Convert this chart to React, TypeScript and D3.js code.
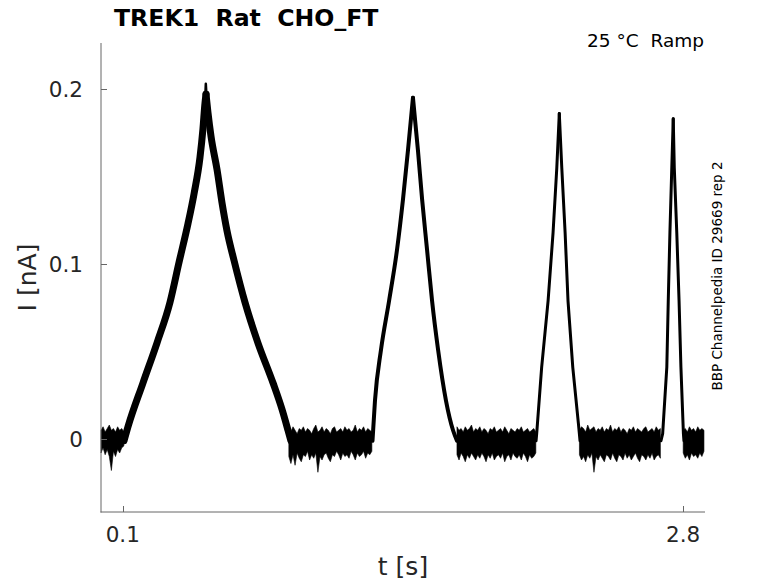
import React from "react";
import * as d3 from "d3";

const W = 778;
const H = 583;

// centre line of each ramp response, [t (s), I (nA)]
const ramp1 = [
  [0.106, -0.001], [0.125, 0.007], [0.197, 0.032], [0.265, 0.055], [0.327, 0.078],
  [0.371, 0.101], [0.414, 0.123], [0.443, 0.14], [0.472, 0.161], [0.486, 0.177],
  [0.496, 0.192], [0.501, 0.197], [0.51, 0.187], [0.525, 0.173], [0.554, 0.154],
  [0.578, 0.135], [0.602, 0.119], [0.636, 0.102], [0.689, 0.078], [0.751, 0.055],
  [0.824, 0.032], [0.867, 0.017], [0.896, 0.005], [0.91, -0.001],
];
// noisy tip of the first ramp
const ramp1Tip = [
  [0.493, 0.184], [0.497, 0.196], [0.499, 0.2], [0.5, 0.203], [0.502, 0.199],
  [0.504, 0.194], [0.507, 0.186],
];
const ramp2 = [
  [1.303, -0.001], [1.315, 0.022], [1.344, 0.051], [1.383, 0.079], [1.421, 0.108],
  [1.45, 0.137], [1.474, 0.165], [1.498, 0.195], [1.522, 0.165], [1.542, 0.137],
  [1.566, 0.108], [1.59, 0.079], [1.619, 0.051], [1.657, 0.022], [1.691, 0.005],
  [1.71, -0.001],
];
const ramp3 = [
  [2.091, -0.001], [2.094, 0.003], [2.118, 0.041], [2.149, 0.079], [2.173, 0.118],
  [2.191, 0.155], [2.203, 0.186], [2.215, 0.155], [2.231, 0.118], [2.245, 0.079],
  [2.268, 0.041], [2.295, 0.009], [2.303, -0.001],
];
const ramp4 = [
  [2.693, -0.001], [2.701, 0.003], [2.721, 0.041], [2.728, 0.079], [2.736, 0.118],
  [2.745, 0.155], [2.752, 0.183], [2.757, 0.155], [2.769, 0.118], [2.78, 0.079],
  [2.789, 0.041], [2.801, 0.003], [2.804, -0.001],
];

// noise band at holding level, [t (s), upper (nA), lower (nA)]
const base1 = [
  [-0.005, 0.005, -0.008], [0.005, 0.007, -0.005], [0.015, 0.004, -0.009], [0.025, 0.006, -0.006],
  [0.035, 0.008, -0.01], [0.045, 0.005, -0.018], [0.055, 0.006, -0.007], [0.065, 0.004, -0.01],
  [0.075, 0.007, -0.006], [0.085, 0.005, -0.008], [0.095, 0.006, -0.005], [0.105, 0.004, -0.004],
];
const base2 = [
  [0.9, 0.006, -0.01], [0.91, 0.004, -0.014], [0.92, 0.007, -0.009], [0.93, 0.005, -0.015],
  [0.94, 0.003, -0.008], [0.95, 0.006, -0.011], [0.96, 0.005, -0.013], [0.97, 0.007, -0.009],
  [0.98, 0.004, -0.01], [0.99, 0.006, -0.007], [1.0, 0.005, -0.012], [1.01, 0.003, -0.009],
  [1.02, 0.006, -0.011], [1.03, 0.008, -0.008], [1.04, 0.004, -0.019], [1.05, 0.005, -0.01],
  [1.06, 0.007, -0.012], [1.07, 0.004, -0.009], [1.08, 0.006, -0.008], [1.09, 0.005, -0.011],
  [1.1, 0.003, -0.013], [1.11, 0.006, -0.009], [1.12, 0.007, -0.01], [1.13, 0.004, -0.007],
  [1.14, 0.005, -0.009], [1.15, 0.006, -0.012], [1.16, 0.004, -0.008], [1.17, 0.007, -0.01],
  [1.18, 0.005, -0.009], [1.19, 0.006, -0.011], [1.2, 0.004, -0.007], [1.21, 0.005, -0.009],
  [1.22, 0.008, -0.012], [1.23, 0.004, -0.008], [1.24, 0.006, -0.01], [1.25, 0.005, -0.009],
  [1.26, 0.007, -0.007], [1.27, 0.004, -0.011], [1.28, 0.006, -0.008], [1.29, 0.005, -0.009],
  [1.3, 0.004, -0.007],
];
const base3 = [
  [1.71, 0.007, -0.009], [1.72, 0.005, -0.012], [1.73, 0.006, -0.008], [1.74, 0.004, -0.01],
  [1.75, 0.007, -0.013], [1.76, 0.005, -0.009], [1.77, 0.006, -0.011], [1.78, 0.008, -0.008],
  [1.79, 0.004, -0.01], [1.8, 0.006, -0.012], [1.81, 0.005, -0.009], [1.82, 0.007, -0.011],
  [1.83, 0.004, -0.008], [1.84, 0.006, -0.01], [1.85, 0.005, -0.013], [1.86, 0.003, -0.009],
  [1.87, 0.006, -0.011], [1.88, 0.005, -0.008], [1.89, 0.007, -0.012], [1.9, 0.004, -0.01],
  [1.91, 0.005, -0.009], [1.92, 0.006, -0.011], [1.93, 0.004, -0.008], [1.94, 0.007, -0.013],
  [1.95, 0.005, -0.01], [1.96, 0.003, -0.009], [1.97, 0.006, -0.012], [1.98, 0.005, -0.008],
  [1.99, 0.004, -0.01], [2.0, 0.006, -0.011], [2.01, 0.005, -0.009], [2.02, 0.007, -0.012],
  [2.03, 0.004, -0.008], [2.04, 0.005, -0.01], [2.05, 0.006, -0.013], [2.06, 0.004, -0.009],
  [2.07, 0.005, -0.011], [2.08, 0.006, -0.01], [2.09, 0.004, -0.008],
];
const base4 = [
  [2.3, 0.005, -0.009], [2.31, 0.007, -0.012], [2.32, 0.006, -0.01], [2.33, 0.004, -0.013],
  [2.34, 0.008, -0.009], [2.35, 0.005, -0.011], [2.36, 0.006, -0.008], [2.37, 0.007, -0.019],
  [2.38, 0.004, -0.01], [2.39, 0.006, -0.012], [2.4, 0.005, -0.009], [2.41, 0.007, -0.011],
  [2.42, 0.004, -0.013], [2.43, 0.006, -0.009], [2.44, 0.005, -0.01], [2.45, 0.008, -0.012],
  [2.46, 0.004, -0.008], [2.47, 0.006, -0.011], [2.48, 0.005, -0.013], [2.49, 0.007, -0.009],
  [2.5, 0.004, -0.01], [2.51, 0.006, -0.012], [2.52, 0.005, -0.008], [2.53, 0.003, -0.011],
  [2.54, 0.006, -0.009], [2.55, 0.005, -0.012], [2.56, 0.007, -0.01], [2.57, 0.004, -0.008],
  [2.58, 0.006, -0.011], [2.59, 0.005, -0.013], [2.6, 0.004, -0.009], [2.61, 0.006, -0.01],
  [2.62, 0.007, -0.012], [2.63, 0.004, -0.009], [2.64, 0.005, -0.011], [2.65, 0.006, -0.008],
  [2.66, 0.004, -0.012], [2.67, 0.007, -0.01], [2.68, 0.005, -0.009], [2.69, 0.006, -0.011],
];
const base5 = [
  [2.8, 0.005, -0.008], [2.81, 0.006, -0.011], [2.82, 0.004, -0.009], [2.83, 0.007, -0.012],
  [2.84, 0.005, -0.008], [2.85, 0.006, -0.01], [2.86, 0.004, -0.009], [2.87, 0.007, -0.011],
  [2.88, 0.005, -0.008], [2.89, 0.006, -0.01], [2.9, 0.005, -0.007],
];

const xTicks = [0.1, 2.8];
const yTicks = [0, 0.1, 0.2];

const title = "TREK1  Rat  CHO_FT";
const subtitle = "25 °C  Ramp";
const sideNote = "BBP Channelpedia ID 29669 rep 2";

const FONT = "DejaVu Sans, sans-serif";

// split a ramp at its peak so each flank can be smoothed while the tip stays sharp
function flanks(r: number[][]) {
  const k = d3.maxIndex(r, (d) => d[1]);
  return [r.slice(0, k + 1), r.slice(k)];
}

export default function App() {
  const x = d3.scaleLinear().domain([-0.005, 2.905]).range([101, 705]);
  const y = d3.scaleLinear().domain([-0.0417, 0.2263]).range([512, 43]);

  const smooth = d3
    .line<number[]>()
    .x((d) => x(d[0]))
    .y((d) => y(d[1]))
    .curve(d3.curveMonotoneX);
  const straight = d3
    .line<number[]>()
    .x((d) => x(d[0]))
    .y((d) => y(d[1]));
  const band = d3
    .area<number[]>()
    .x((d) => x(d[0]))
    .y0((d) => y(d[2]))
    .y1((d) => y(d[1]));

  const ramps: [number[][], number, boolean][] = [
    [ramp1, 7, true],
    [ramp2, 4, true],
    [ramp3, 3, false],
    [ramp4, 3, false],
  ];

  return (
    <div style={{ position: "absolute", left: 0, top: 0 }}>
      <svg width={W} height={H} style={{ display: "block", background: "#fff" }}>
        {/* trace */}
        {[base1, base2, base3, base4, base5].map((b, i) => (
          <path key={"b" + i} d={band(b) ?? ""} fill="#000" stroke="#000" strokeWidth={0.6} />
        ))}
        {ramps.map(([r, w, s], i) =>
          flanks(r).map((f, j) => (
            <path
              key={"r" + i + j}
              d={(s ? smooth(f) : straight(f)) ?? ""}
              fill="none"
              stroke="#000"
              strokeWidth={w}
              strokeLinejoin="round"
              strokeLinecap="round"
            />
          ))
        )}
        <path
          d={straight(ramp1Tip) ?? ""}
          fill="none"
          stroke="#000"
          strokeWidth={2.5}
          strokeLinejoin="round"
        />

        {/* axes */}
        <line x1={101} x2={101} y1={43} y2={512.5} stroke="#666" strokeWidth={1} />
        <line x1={100.5} x2={705} y1={512} y2={512} stroke="#666" strokeWidth={1} />
        {yTicks.map((t) => (
          <g key={"y" + t}>
            <line x1={101} x2={107} y1={Math.round(y(t)) + 0.5} y2={Math.round(y(t)) + 0.5} stroke="#666" />
            <text
              x={83}
              y={y(t)}
              dy="0.36em"
              textAnchor="end"
              fontFamily={FONT}
              fontSize={21.5}
              fill="#262626"
            >
              {t}
            </text>
          </g>
        ))}
        {xTicks.map((t) => (
          <g key={"x" + t}>
            <line x1={Math.round(x(t)) + 0.5} x2={Math.round(x(t)) + 0.5} y1={512} y2={506} stroke="#666" />
            <text x={x(t)} y={541.5} textAnchor="middle" fontFamily={FONT} fontSize={21.5} fill="#262626">
              {t}
            </text>
          </g>
        ))}

        <text x={403} y={575} textAnchor="middle" fontFamily={FONT} fontSize={25} fill="#262626">
          t [s]
        </text>
        <text
          transform={`translate(36, ${(43 + 512) / 2}) rotate(-90)`}
          textAnchor="middle"
          fontFamily={FONT}
          fontSize={25}
          fill="#262626"
        >
          I [nA]
        </text>

        {/* titles */}
        <text x={114} y={26} fontFamily={FONT} fontSize={23.6} fontWeight="bold" fill="#000" style={{ whiteSpace: "pre" }}>
          {title}
        </text>
        <text x={704} y={47} textAnchor="end" fontFamily={FONT} fontSize={18.5} fill="#000" style={{ whiteSpace: "pre" }}>
          {subtitle}
        </text>
        <text
          transform="translate(722, 276) rotate(-90)"
          textAnchor="middle"
          fontFamily={FONT}
          fontSize={13.5}
          fill="#000"
        >
          {sideNote}
        </text>
      </svg>
    </div>
  );
}
